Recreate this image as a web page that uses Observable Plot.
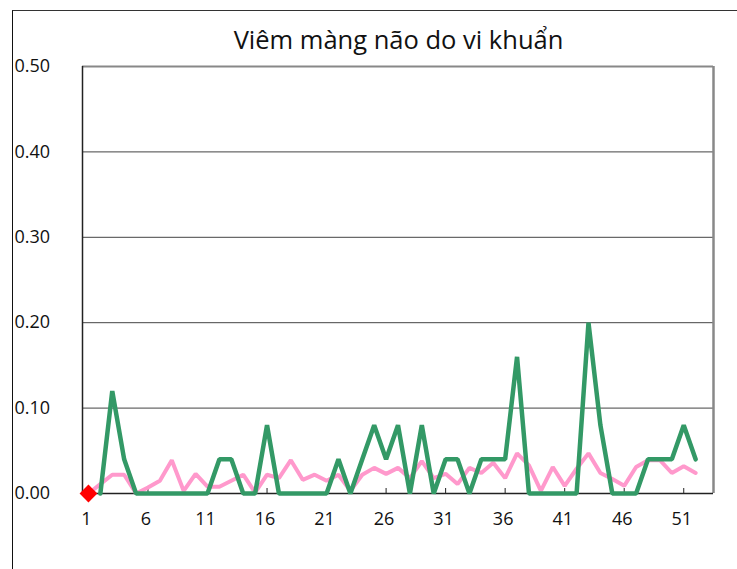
<!DOCTYPE html>
<html>
<head>
<meta charset="utf-8">
<script src="https://cdn.jsdelivr.net/npm/d3@7"></script>
<script src="https://cdn.jsdelivr.net/npm/@observablehq/plot@0.6"></script>
<style>
  html, body { margin: 0; padding: 0; background: #fff; }
  #wrap { position: relative; width: 737px; height: 569px; overflow: hidden; }
  #border { position: absolute; left: 12px; top: 10px; width: 740px; height: 570px;
            border-left: 1.5px solid #111; border-top: 1.5px solid #333; box-sizing: border-box; }
  #title { position: absolute; left: 0; width: 797px; top: 22px; text-align: center;
           font-family: "Open Sans", sans-serif; font-size: 25.5px; color: #111; }
  #chart { position: absolute; left: 0; top: 0; }
</style>
</head>
<body>
<div id="wrap">
  <div id="chart"></div>
  <div id="border"></div>
  <div id="title">Viêm màng não do vi khuẩn</div>
</div>
<script>
const weeks = d3.range(1, 53);
// pink series
const pinkValues = [0.000, 0.011, 0.022, 0.022, 0.000, 0.007, 0.015, 0.039, 0.003, 0.023,
  0.008, 0.008, 0.015, 0.022, 0.001, 0.022, 0.018, 0.039, 0.016, 0.022,
  0.015, 0.022, 0.003, 0.022, 0.030, 0.023, 0.030, 0.018, 0.038, 0.018,
  0.023, 0.011, 0.030, 0.024, 0.036, 0.018, 0.047, 0.033, 0.003, 0.031,
  0.009, 0.029, 0.047, 0.024, 0.017, 0.009, 0.031, 0.039, 0.039, 0.024,
  0.032, 0.024];
// green series
const greenValues = [null, 0, 0.12, 0.04, 0, 0, 0, 0, 0, 0,
  0, 0.04, 0.04, 0, 0, 0.08, 0, 0, 0, 0,
  0, 0.04, 0, 0.04, 0.08, 0.04, 0.08, 0, 0.08, 0,
  0.04, 0.04, 0, 0.04, 0.04, 0.04, 0.16, 0, 0, 0,
  0, 0, 0.20, 0.08, 0, 0, 0, 0.04, 0.04, 0.04,
  0.08, 0.04];
// red marker
const markerWeeks = [1];
const markerValues = [0];

const xTicks = [1, 6, 11, 16, 21, 26, 31, 36, 41, 46, 51];
const yTicks = [0, 0.1, 0.2, 0.3, 0.4, 0.5];
const gridTicks = [0.1, 0.2, 0.3, 0.4];
const xDomain = [0.5, 53.5];
const yDomain = [0, 0.5];

const pink = weeks.map((w, i) => ({week: w, value: pinkValues[i]}));
const green = weeks.map((w, i) => ({week: w, value: greenValues[i]}));
const marker = markerWeeks.map((w, i) => ({week: w, value: markerValues[i]}));

const chart = Plot.plot({
  width: 737,
  height: 569,
  marginLeft: 82,
  marginRight: 24,
  marginTop: 66,
  marginBottom: 76,
  style: {fontFamily: "'Open Sans', sans-serif", fontSize: "18px", color: "#111", background: "transparent"},
  x: {domain: xDomain, axis: null},
  y: {domain: yDomain, axis: null},
  marks: [
    Plot.ruleY(gridTicks, {stroke: "#444", strokeWidth: 1}),
    Plot.ruleY([yDomain[1]], {stroke: "#888", strokeWidth: 2}),
    Plot.ruleX([xDomain[1]], {stroke: "#888", strokeWidth: 2.5}),
    Plot.ruleX([xDomain[0]], {stroke: "#222", strokeWidth: 1.5}),
    Plot.ruleY([0], {stroke: "#222", strokeWidth: 1.5}),
    Plot.axisX(xTicks, {tickSize: -5, text: null, label: null, stroke: "#222"}),
    Plot.axisX(xTicks, {tickSize: 0, tickPadding: 19, label: null, fontSize: 18, fill: "#111", dx: -2}),
    Plot.text(yTicks, {y: d => d, text: d => d.toFixed(2), frameAnchor: "left", textAnchor: "start", dx: -68, fontSize: 18, fill: "#111"}),
    Plot.line(pink, {x: "week", y: "value", stroke: "#ff99cc", strokeWidth: 4, strokeLinejoin: "miter"}),
    Plot.line(green, {x: "week", y: "value", stroke: "#339966", strokeWidth: 4.5, strokeLinejoin: "miter", defined: d => d.value != null}),
    Plot.dot(marker, {x: "week", y: "value", symbol: "diamond2", r: 8, fill: "#ff0000", stroke: "none"})
  ]
});
document.getElementById("chart").appendChild(chart);
</script>
</body>
</html>
